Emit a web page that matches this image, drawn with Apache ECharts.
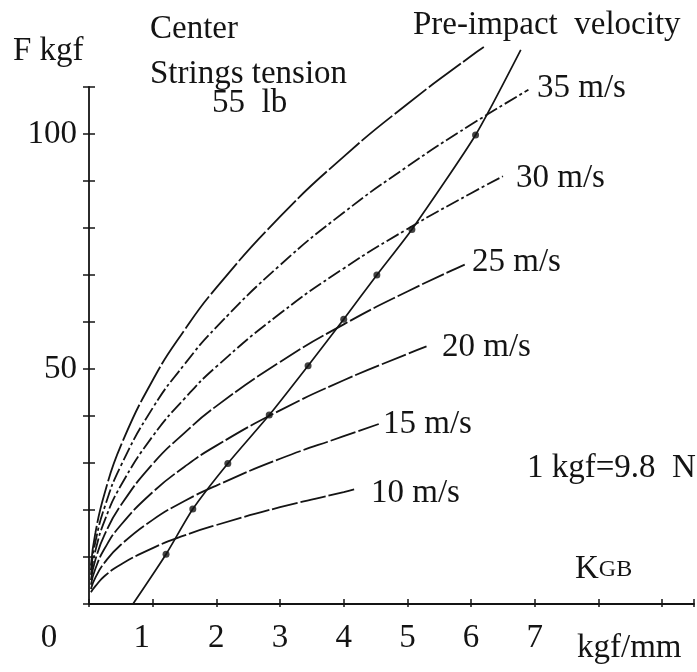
<!DOCTYPE html>
<html>
<head>
<meta charset="utf-8">
<script src="https://cdn.jsdelivr.net/npm/echarts@6/dist/echarts.min.js"></script>
<style>
html,body{margin:0;padding:0;background:#fff;}
#chart{width:697px;height:672px;}
</style>
</head>
<body>
<div id="chart"></div>
<script>
// ---- data ----
const xTickLabels = ['0', '1', '2', '3', '4', '5', '6', '7'];
const yTickLabels = ['50', '100'];

// pre-impact velocity curves: K (kgf/mm) vs F (kgf)
const k10 = [0.03, 0.1, 0.25, 0.5, 1, 1.5, 2, 3, 4, 4.2];
const f10 = [2.5, 3.8, 6.0, 8.4, 11.9, 14.6, 16.8, 20.6, 23.8, 24.5];
const k15 = [0.03, 0.1, 0.25, 0.5, 1, 1.5, 2, 3, 4, 4.55];
const f15 = [3.2, 5.6, 8.9, 12.6, 17.9, 21.9, 25.2, 30.9, 35.7, 38.3];
const k20 = [0.03, 0.1, 0.25, 0.5, 1, 1.5, 2, 3, 4, 5, 5.3];
const f20 = [4.1, 7.5, 11.9, 16.8, 23.8, 29.2, 33.7, 41.2, 47.6, 53.2, 54.8];
const k25 = [0.03, 0.1, 0.25, 0.5, 1, 1.5, 2, 3, 4, 5, 5.9];
const f25 = [5.1, 9.4, 14.9, 21.0, 29.8, 36.4, 42.1, 51.5, 59.5, 66.5, 72.2];
const k30 = [0.03, 0.1, 0.25, 0.5, 1, 1.5, 2, 3, 4, 5, 6, 6.5];
const f30 = [6.2, 11.3, 17.9, 25.2, 35.7, 43.7, 50.5, 61.8, 71.4, 79.8, 87.4, 91.0];
const k35 = [0.03, 0.1, 0.25, 0.5, 1, 1.5, 2, 3, 4, 5, 6, 6.9];
const f35 = [7.2, 13.2, 20.8, 29.4, 41.7, 51.0, 58.9, 72.1, 83.3, 93.1, 102.0, 109.4];
const k40 = [0.03, 0.1, 0.25, 0.5, 1, 1.5, 2, 3, 4, 5, 6, 6.2];
const f40 = [8.2, 15.1, 23.8, 33.7, 47.6, 58.3, 67.3, 82.4, 95.2, 106.4, 116.6, 118.5];

// K_GB curve and its marked points
const kgbK = [0.69, 1.21, 1.63, 2.18, 2.83, 3.44, 4.0, 4.52, 5.07, 6.07, 6.78];
const kgbF = [0, 10.6, 20.2, 29.9, 40.2, 50.7, 60.6, 70.0, 79.7, 99.8, 117.9];
const dotK = [1.21, 1.63, 2.18, 2.83, 3.44, 4.0, 4.52, 5.07, 6.07];
const dotF = [10.6, 20.2, 29.9, 40.2, 50.7, 60.6, 70.0, 79.7, 99.8];

// ---- chart ----
const FONT = '"Liberation Serif", "Times New Roman", serif';
const INK = '#141414';
const zip = (a, b) => a.map((v, i) => [v, b[i]]);

const curves = [[k10, f10], [k15, f15], [k20, f20], [k25, f25], [k30, f30], [k35, f35], [k40, f40]];
const dashes = [[26, 3], [26, 3], [26, 3], [24, 3], [14, 3, 3, 3], [14, 3, 3, 3], [40, 3]];

const series = curves.map(([k, f], i) => ({
  type: 'line', data: zip(k, f), smooth: true, showSymbol: false, clip: false,
  lineStyle: { color: INK, width: 1.8, type: dashes[i] }, silent: true
}));
series.push({
  type: 'line', data: zip(kgbK, kgbF), smooth: 0.2, showSymbol: false, clip: false,
  lineStyle: { color: INK, width: 1.7 }, silent: true
});
series.push({
  type: 'scatter', data: zip(dotK, dotF), symbolSize: 7, itemStyle: { color: INK }, silent: true
});

const txt = (text, left, y, size) => ({
  type: 'text', left: left, top: y - (size || 33) / 2,
  style: { text: text, font: (size || 33) + 'px ' + FONT, fill: INK }
});

const option = {
  backgroundColor: '#fff',
  animation: false,
  grid: { left: 89, right: 0, top: 87, bottom: 68, containLabel: false },
  xAxis: [{
    type: 'value', min: 0, max: 9.5, interval: 1,
    axisLine: { lineStyle: { color: INK, width: 1.8 } },
    axisTick: { inside: true, length: 5, lineStyle: { color: INK, width: 1.5 } },
    splitLine: { show: false },
    axisLabel: {
      margin: 18, fontSize: 33, fontFamily: FONT, color: INK,
      formatter: function (v) {
        const i = Math.round(v);
        if (i > 7) return '';
        if (i === 0) return '{z|' + xTickLabels[0] + '}';
        if (i === 1) return '{o|' + xTickLabels[1] + '}';
        return xTickLabels[i];
      },
      rich: {
        z: { fontSize: 33, fontFamily: FONT, color: INK, padding: [0, 80, 0, 0] },
        o: { fontSize: 33, fontFamily: FONT, color: INK, padding: [0, 22, 0, 0] }
      }
    }
  }, {
    type: 'value', min: 0, max: 9.5, interval: 1, position: 'bottom',
    axisLine: { show: false },
    axisTick: { inside: false, length: 3, lineStyle: { color: INK, width: 1.5 } },
    splitLine: { show: false }, axisLabel: { show: false }
  }],
  yAxis: [{
    type: 'value', min: 0, max: 110, interval: 10,
    axisLine: { show: true, lineStyle: { color: INK, width: 1.8 } },
    axisTick: { show: true, inside: false, length: 6, lineStyle: { color: INK, width: 1.5 } },
    splitLine: { show: false },
    axisLabel: {
      margin: 12, fontSize: 33, fontFamily: FONT, color: INK,
      formatter: function (v) { return yTickLabels.indexOf(String(v)) >= 0 ? String(v) : ''; }
    }
  }, {
    type: 'value', min: 0, max: 110, interval: 10, position: 'left',
    axisLine: { show: false },
    axisTick: { show: true, inside: true, length: 6, lineStyle: { color: INK, width: 1.5 } },
    splitLine: { show: false }, axisLabel: { show: false }
  }],
  series: series,
  graphic: [
    txt('Pre-impact  velocity', 413, 25),
    txt('Center', 150, 29),
    txt('F kgf', 13, 51),
    txt('Strings tension', 150, 74),
    txt('55  lb', 212, 103),
    txt('35 m/s', 537, 88),
    txt('30 m/s', 516, 178),
    txt('25 m/s', 472, 262),
    txt('20 m/s', 442, 347),
    txt('15 m/s', 383, 424),
    txt('10 m/s', 371, 493),
    txt('1 kgf=9.8  N', 527, 468),
    txt('kgf/mm', 577, 648),
    {
      type: 'text', left: 575, top: 553,
      style: {
        text: '{a|K}{b|GB}',
        rich: {
          a: { font: '33px ' + FONT, fill: INK },
          b: { font: '24px ' + FONT, fill: INK }
        }
      }
    }
  ]
};

const chart = echarts.init(document.getElementById('chart'), null, { renderer: 'canvas' });
chart.setOption(option);
</script>
</body>
</html>
